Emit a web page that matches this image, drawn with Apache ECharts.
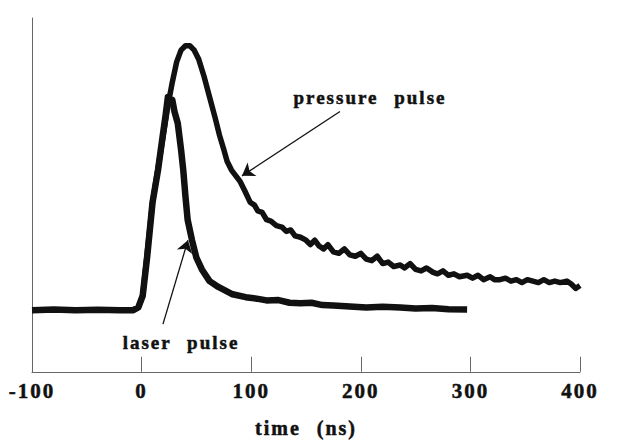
<!DOCTYPE html>
<html>
<head>
<meta charset="utf-8">
<script src="https://cdn.jsdelivr.net/npm/echarts@6/dist/echarts.min.js"></script>
<style>
html,body{margin:0;padding:0;background:#fff;}
#main{width:640px;height:443px;}
#main svg text{letter-spacing:2px;word-spacing:9px;}
</style>
</head>
<body>
<div id="main"></div>
<script>
// x ticks (ns)
const xTicks = [-100, 0, 100, 200, 300, 400];
// laser pulse trace: [time ns, relative amplitude]
const laserPulse = [
  [-100,0],[-80,0.3],[-60,0],[-40,0.2],[-20,0],[-8,0],[-3,1],[1,5],[5,18],[10,37],
  [15,48],[19,59],[22,67],[24,73],[26,71],[28,72],[30,68],[33,64],[36,55],[38,48],
  [40,39],[42,31],[46,24],[50,18],[55,14],[62,10],[70,8],[83,5.5],[95,4.5],[105,4],
  [114,3.4],[125,3.5],[135,2.6],[145,2.4],[155,2.6],[165,1.8],[175,1.7],[190,1.3],
  [205,1],[220,1.2],[236,1],[250,0.6],[265,0.8],[280,0.4],[297,0.3]
];
// pressure pulse trace: [time ns, relative amplitude]
const pressurePulse = [
  [-100,0],[-8,0],[-3,1],[1,5],[10,37],[19,58],[24,70],[28,78],[32,85],[36,89],
  [40,90.5],[44,90.5],[48,89],[52,86],[57,80],[62,73],[67,66],[71,60],[75,55],[78,51],
  [82,48],[86,46],[90,44],[94,41],[99,37],[103,36],[106,34],[110,33.5],[114,31],[118,30.5],
  [123,29],[128,28.5],[132,27],[136,27.5],[140,25.5],[145,25],[150,24],[154,22.5],[158,24],
  [162,22],[166,21],[170,22.5],[175,20],[180,19.5],[185,21],[190,19],[195,18.5],[200,19.5],
  [205,17.5],[210,17],[215,18.5],[220,16],[225,16.5],[230,15],[236,15.5],[240,14.5],[245,16],
  [250,14],[255,13.5],[260,14.5],[266,13],[270,12.5],[275,13.5],[280,12],[285,12.5],[290,11.5],
  [297,12],[302,11],[307,12],[312,10.5],[318,11.5],[322,10.5],[327,10.5],[332,11],[337,10],
  [342,10.5],[347,9.5],[352,10.5],[357,10],[362,9.5],[367,10.5],[372,9.5],[377,10],[382,9.5],
  [388,10],[392,9],[396,7.5],[400,8.5]
];
// annotation arrows: [from, to] in data coordinates
const pressureArrow = [[181, 68], [91.6, 46]];
const laserArrow = [[19.5, -4.7], [42.3, 24]];
const labels = { pressure: 'pressure pulse', laser: 'laser pulse', xName: 'time (ns)' };

const chart = echarts.init(document.getElementById('main'), null, {renderer: 'svg'});
const font = '"Liberation Serif", "Times New Roman", serif';
const arrowML = (a) => ({
  silent: true,
  symbol: ['none', 'arrow'],
  symbolSize: 12,
  label: {show: false},
  lineStyle: {color: '#111', width: 1.3, type: 'solid'},
  itemStyle: {color: '#111'},
  data: [[{coord: a[0]}, {coord: a[1]}]]
});
chart.setOption({
  animation: false,
  backgroundColor: '#fff',
  grid: {left: 32, right: 60, top: 18, bottom: 68, containLabel: false},
  xAxis: {
    type: 'value', min: xTicks[0], max: xTicks[xTicks.length-1], interval: 100,
    axisLine: {show: true, onZero: false, lineStyle: {color: '#666', width: 1}},
    axisTick: {show: true, inside: true, length: 15, lineStyle: {color: '#666', width: 1}},
    splitLine: {show: false},
    axisLabel: {margin: 9, fontFamily: font, fontWeight: 'bold', fontSize: 21, color: '#111',
      textBorderColor: '#111', textBorderWidth: 0.5, formatter: v => String(v)},
    name: labels.xName, nameLocation: 'middle', nameGap: 46,
    nameTextStyle: {fontFamily: font, fontWeight: 'bold', fontSize: 20, color: '#111',
      textBorderColor: '#111', textBorderWidth: 0.5}
  },
  yAxis: {
    type: 'value', min: -21, max: 100,
    axisLine: {show: true, onZero: false, lineStyle: {color: '#666', width: 1}},
    axisTick: {show: false}, axisLabel: {show: false}, splitLine: {show: false}
  },
  series: [
    {type: 'line', data: laserPulse, showSymbol: false, lineStyle: {color: '#111', width: 6.5, join: 'round'},
      markLine: arrowML(laserArrow)},
    {type: 'line', data: pressurePulse, showSymbol: false, lineStyle: {color: '#111', width: 5.5, join: 'round'},
      markLine: arrowML(pressureArrow)}
  ],
  graphic: [
    {type: 'text', x: 370, y: 97, style: {text: labels.pressure, fill: '#111', stroke: '#111', lineWidth: 0.5, font: 'bold 19px ' + font, textAlign: 'center', textVerticalAlign: 'middle'}},
    {type: 'text', x: 181, y: 342, style: {text: labels.laser, fill: '#111', stroke: '#111', lineWidth: 0.5, font: 'bold 19px ' + font, textAlign: 'center', textVerticalAlign: 'middle'}}
  ]
});
</script>
</body>
</html>
